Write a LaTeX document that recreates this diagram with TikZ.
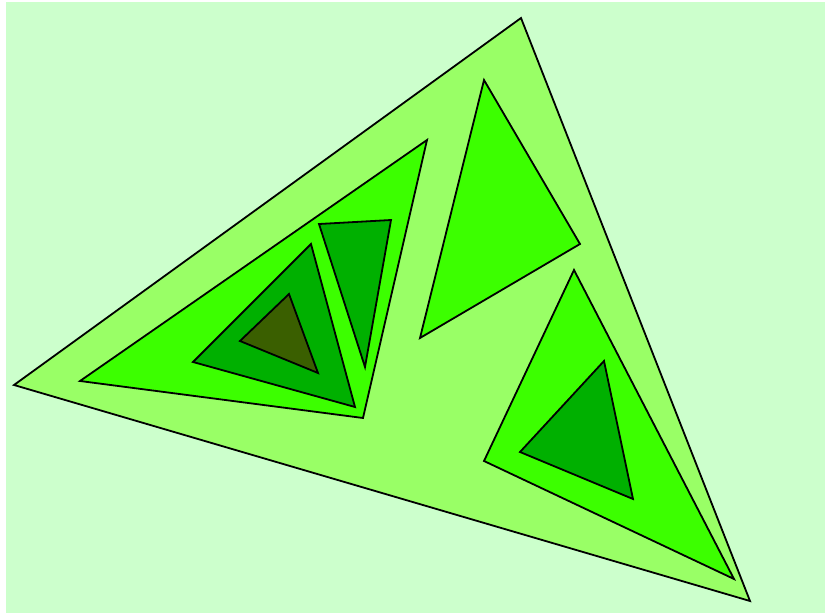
\documentclass[tikz,border=0pt]{standalone}
\definecolor{bgc}{HTML}{CCFFCC}
\definecolor{lvA}{HTML}{99FF66}
\definecolor{lvB}{HTML}{3CFF00}
\definecolor{lvC}{HTML}{00B000}
\definecolor{lvD}{HTML}{3A5F00}
\tikzset{tri/.style={draw=black,line width=1.8pt,line join=miter}}
\begin{document}
\begin{tikzpicture}[x=1pt,y=-1pt]
\useasboundingbox (0,0) rectangle (825,613);
\fill[white] (0,0) rectangle (825,613);
\fill[bgc] (6,2) rectangle (825,613);
% level 1
\filldraw[tri,fill=lvA] (521,18) -- (14,385) -- (750,601) -- cycle;
% level 2
\filldraw[tri,fill=lvB] (427,140) -- (80,381) -- (363,418) -- cycle;
\filldraw[tri,fill=lvB] (484,80) -- (420,338) -- (580,244) -- cycle;
\filldraw[tri,fill=lvB] (574,270) -- (484,461) -- (734,579) -- cycle;
% level 3
\filldraw[tri,fill=lvC] (311,244) -- (193,362) -- (355,407) -- cycle;
\filldraw[tri,fill=lvC] (319,224) -- (391,220) -- (365,367) -- cycle;
\filldraw[tri,fill=lvC] (604,361) -- (520,452) -- (633,499) -- cycle;
% level 4
\filldraw[tri,fill=lvD] (289,294) -- (240,341) -- (318,373) -- cycle;
\end{tikzpicture}
\end{document}
